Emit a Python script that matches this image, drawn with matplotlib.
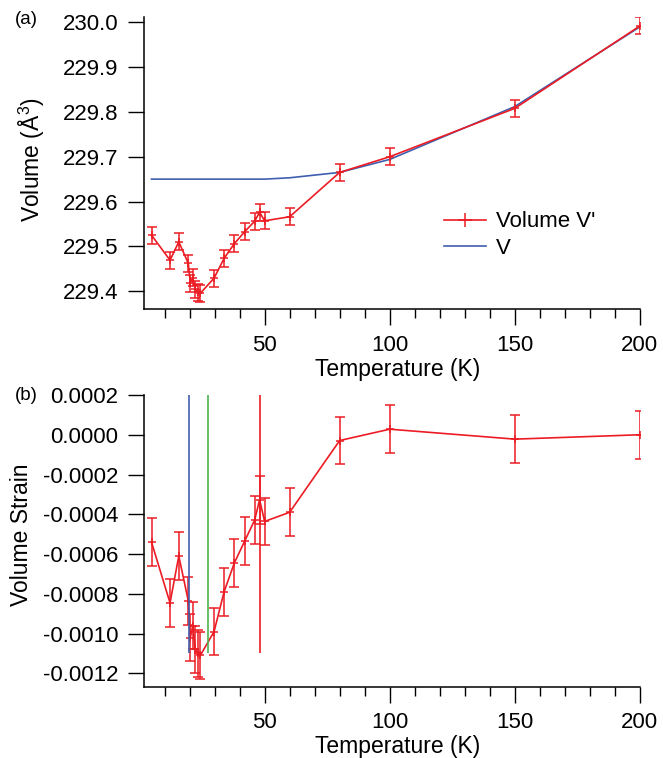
import numpy as np
import matplotlib
matplotlib.use('Agg')
from matplotlib import pyplot as plt
from matplotlib.lines import Line2D
from matplotlib.ticker import MultipleLocator, FuncFormatter

plt.rcParams['font.family'] = ['Liberation Sans', 'DejaVu Sans']
plt.rcParams['mathtext.fontset'] = 'custom'
plt.rcParams['mathtext.rm'] = 'Liberation Sans'

# data
temps = [4.8, 12.2, 15.7, 19.5, 20.3, 21.3, 22.3, 23.3, 24.3, 29.8, 33.8, 37.9,
         42.1, 46.0, 48.0, 50.0, 60.0, 80.0, 100.0, 150.0, 200.0]
volume_vp = [229.525, 229.469, 229.510, 229.462, 229.418, 229.430, 229.404, 229.398,
             229.395, 229.429, 229.473, 229.506, 229.533, 229.556, 229.576, 229.557,
             229.566, 229.665, 229.700, 229.808, 229.992]
volume_err = 0.019

temps_v = [4.8, 20.0, 30.0, 40.0, 50.0, 60.0, 80.0, 100.0, 150.0, 200.0]
volume_v = [229.650, 229.650, 229.650, 229.650, 229.650, 229.653, 229.665, 229.694,
            229.812, 229.990]

strain = [-0.00054, -0.000846, -0.00061, -0.000835, -0.00102, -0.00096, -0.00108,
          -0.00110, -0.00111, -0.00099, -0.00079, -0.000645, -0.000533, -0.00043,
          -0.000327, -0.000436, -0.00039, -0.000029, 0.000028, -0.000022, 0.0]
strain_err = 0.00012

vline_temps = [19.7, 27.2, 48.0]
vline_colors = ['#3f5fae', '#4db34d', '#ec1c24']
vline_bottom, vline_top = -0.0011, 0.0002

red = '#ec1c24'
blue = '#3f5fae'

fig = plt.figure(figsize=(6.63, 7.58), dpi=100)
ax1 = fig.add_axes([0.2172, 0.5923, 0.748, 0.3856])
ax2 = fig.add_axes([0.2172, 0.0941, 0.748, 0.3848])

# (a) volume
ax1.plot(temps_v, volume_v, color=blue, lw=1.2, zorder=2)
ax1.errorbar(temps, volume_vp, yerr=volume_err, color=red, lw=1.2, capsize=3.5,
             capthick=1.1, elinewidth=1.1, marker='+', ms=6, mew=1.1, zorder=3)
ax1.set_ylim(229.36, 230.0125)
ax1.yaxis.set_major_locator(MultipleLocator(0.1))
ax1.yaxis.set_major_formatter(FuncFormatter(lambda v, p: f'{v:.1f}'))

handles = [Line2D([], [], color=red, lw=1.2, marker='+', ms=10, mew=1.1),
           Line2D([], [], color=blue, lw=1.2)]
ax1.legend(handles, ["Volume V'", 'V'], loc='center left', bbox_to_anchor=(0.605, 0.253),
           frameon=False, fontsize=16, handlelength=1.9, handletextpad=0.45,
           borderpad=0, borderaxespad=0, labelspacing=0.25)

# (b) strain
ax2.errorbar(temps, strain, yerr=strain_err, color=red, lw=1.2, capsize=3.5,
             capthick=1.1, elinewidth=1.1, marker='+', ms=6, mew=1.1, zorder=3)
ax2.vlines(vline_temps, vline_bottom, vline_top, colors=vline_colors, lw=1.2, zorder=4)
ax2.set_ylim(-0.001267, 0.0002)
ax2.yaxis.set_major_locator(MultipleLocator(0.0002))


def strain_fmt(v, p):
    v = round(v, 6)
    if abs(v) < 1e-9:
        return '0.0000'
    return f'{v:.4f}'


ax2.yaxis.set_major_formatter(FuncFormatter(strain_fmt))

for ax in (ax1, ax2):
    ax.set_xlim(1.8, 200)
    ax.xaxis.set_major_locator(MultipleLocator(50))
    ax.xaxis.set_minor_locator(MultipleLocator(10))
    ax.xaxis.set_major_formatter(FuncFormatter(lambda v, p: f'{v:.0f}' if v > 0 else ''))
    ax.spines['top'].set_visible(False)
    ax.spines['right'].set_visible(False)
    for s in ('left', 'bottom'):
        ax.spines[s].set_linewidth(1.1)
    ax.tick_params(which='major', direction='out', length=11.5, width=1.0, labelsize=16, pad=7)
    ax.tick_params(which='minor', direction='out', length=6.5, width=1.0)
    ax.set_xlabel('Temperature (K)', fontsize=16.5)
    ax.xaxis.set_label_coords(0.512, -0.166)

fig.text(32 / 663, 1 - 159.5 / 758, 'Volume (Å$^{3}$)', rotation=90, ha='center',
         va='center', fontsize=16.5)
fig.text(22 / 663, 1 - 535 / 758, 'Volume Strain', rotation=90, ha='center',
         va='center', fontsize=16.5)
fig.text(26.7 / 663, 1 - 19 / 758, '(a)', ha='center', va='center', fontsize=13.5)
fig.text(26.3 / 663, 1 - 395.5 / 758, '(b)', ha='center', va='center', fontsize=13.5)

plt.savefig('out.png', dpi=100)
